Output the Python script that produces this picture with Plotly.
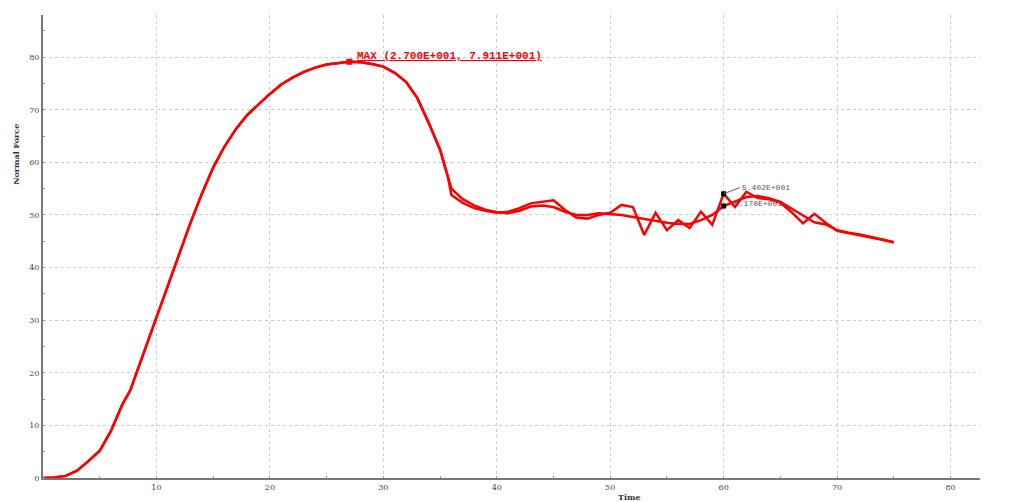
import plotly.graph_objects as go

# shared rising part
t_common = [0, 1, 2, 3, 4, 5, 5.2, 6, 7, 7.7, 8, 9, 10, 11, 12, 13, 14, 15, 16, 17, 18,
            19, 20, 21, 22, 23, 24, 25, 26, 27, 28, 29, 30, 31, 32, 33, 34, 35, 35.7]
f_common = [0, 0.1, 0.4, 1.4, 3.2, 5.2, 5.9, 9.0, 14.0, 16.7, 18.5, 24.5, 30.6, 36.5, 42.7,
            48.5, 54.0, 59.0, 63.0, 66.3, 69.0, 71.0, 73.0, 74.8, 76.1, 77.2, 78.0, 78.6,
            78.9, 79.11, 79.0, 78.7, 78.2, 77.0, 75.3, 72.2, 67.5, 62.4, 57.2]

t_tail = [36, 37, 38, 39, 40, 41, 42, 43, 44, 45, 46, 47, 48, 49, 50, 51, 52, 53, 54, 55,
          56, 57, 58, 59, 60, 61, 62, 63, 64, 65, 66, 67, 68, 69, 70, 71, 72, 73, 74, 75]
f_tail_a = [55.0, 53.0, 51.8, 51.0, 50.5, 50.3, 50.8, 51.6, 51.8, 51.5, 50.6, 50.0, 50.0,
            50.3, 50.2, 50.0, 49.6, 49.2, 48.8, 48.5, 48.3, 48.3, 49.0, 50.0, 51.70, 52.6,
            53.4, 53.6, 53.2, 52.5, 51.2, 49.8, 48.6, 48.2, 47.1, 46.6, 46.3, 45.8, 45.3, 44.8]
f_tail_b = [53.8, 52.3, 51.3, 50.8, 50.4, 50.6, 51.3, 52.2, 52.5, 52.8, 51.0, 49.5, 49.3,
            50.0, 50.4, 51.9, 51.5, 46.2, 50.4, 47.1, 49.0, 47.5, 50.6, 48.1, 54.02, 51.5,
            54.4, 53.2, 53.0, 52.3, 50.5, 48.4, 50.2, 48.5, 47.0, 46.6, 46.2, 45.8, 45.3, 44.8]

max_t, max_f = 27.0, 79.11
probe_t = 60.0
probe_a, probe_b = 51.70, 54.02

x_ticks = [10, 20, 30, 40, 50, 60, 70, 80]
y_ticks = [0, 10, 20, 30, 40, 50, 60, 70, 80]

fig = go.Figure()
fig.add_trace(go.Scatter(x=t_common + t_tail, y=f_common + f_tail_a, mode="lines",
                         line=dict(color="#ff0000", width=2.5), showlegend=False))
fig.add_trace(go.Scatter(x=t_common + t_tail, y=f_common + f_tail_b, mode="lines",
                         line=dict(color="#ff0000", width=2.5), showlegend=False))
fig.add_trace(go.Scatter(x=[max_t], y=[max_f], mode="markers",
                         marker=dict(symbol="square", size=6, color="#ff0000"), showlegend=False))
fig.add_trace(go.Scatter(x=[probe_t, probe_t], y=[probe_b, probe_a], mode="markers",
                         marker=dict(symbol="square", size=5, color="black"), showlegend=False))

fig.add_annotation(x=max_t, y=max_f, text="<b><u>MAX (2.700E+001, 7.911E+001)</u></b>",
                   showarrow=False, xanchor="left", yanchor="bottom", xshift=6, yshift=-2,
                   font=dict(family="Liberation Mono", size=11, color="#ff0000"))
fig.add_annotation(x=probe_t, y=probe_b, text="5.402E+001", showarrow=True, arrowhead=0,
                   arrowwidth=1, arrowcolor="#666666", ax=16, ay=-6, xanchor="left",
                   font=dict(family="Liberation Mono", size=8, color="#555555"))
fig.add_annotation(x=probe_t, y=probe_a, text="5.170E+001", showarrow=False, xanchor="left",
                   xshift=8, yshift=2,
                   font=dict(family="Liberation Mono", size=8, color="#555555"))

# axis titles placed like the reference (not centred)
fig.add_annotation(xref="paper", yref="paper", x=0, y=0.698, xshift=-27,
                   xanchor="center", yanchor="middle", text="<b>Normal Force</b>",
                   textangle=-90, showarrow=False,
                   font=dict(family="DejaVu Serif", size=8, color="#333333"))
fig.add_annotation(xref="paper", yref="paper", x=0.626, y=0, yshift=-12,
                   xanchor="center", yanchor="top", text="<b>Time</b>",
                   showarrow=False,
                   font=dict(family="DejaVu Serif", size=8, color="#333333"))

axis_common = dict(showline=True, linecolor="#777777", linewidth=2, showgrid=True,
                   gridcolor="#cccccc", griddash="dot", gridwidth=1, zeroline=False,
                   automargin=False,
                   tickfont=dict(family="DejaVu Serif", size=8, color="#444444"),
                   ticks="", minor=dict(ticks="inside", ticklen=2, tickcolor="#999999",
                                         showgrid=False))
fig.update_xaxes(range=[0, 82.6], tickvals=x_ticks, **axis_common)
fig.update_yaxes(range=[0, 88], tickvals=y_ticks, **axis_common)
fig.update_layout(width=1011, height=494, paper_bgcolor="white", plot_bgcolor="white",
                  margin=dict(l=35, r=39, t=7, b=24))
fig.write_html("out.html")
